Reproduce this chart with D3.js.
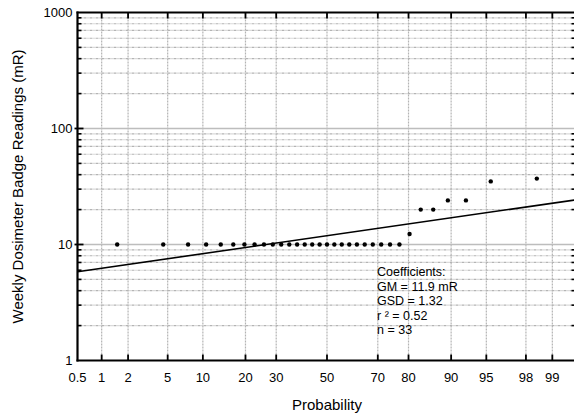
<!DOCTYPE html>
<html>
<head>
<meta charset="utf-8">
<script src="https://cdn.jsdelivr.net/npm/d3@7"></script>
<style>
  body { margin: 0; background: #fff; }
  text { font-family: "Liberation Sans", Arial, sans-serif; fill: #000; }
</style>
</head>
<body>
<div id="chart"></div>
<script>
// badge readings, sorted (mR), n = 33
const readings = [10,10,10,10,10,10,10,10,10,10,10,10,10,10,10,10,10,10,10,10,10,10,10,10,10,10,
                  12.3,20,20,24,24,35,37];
const probTicks = [0.5,1,2,5,10,20,30,50,70,80,90,95,98,99];
const yTicks = [1,10,100,1000];
const gm = 11.9, gsd = 1.32;
const coefText = ["Coefficients:", "GM = 11.9 mR", "GSD = 1.32", "r \u00b2 = 0.52", "n = 33"];

const width = 574, height = 417;
const margin = {top: 12.5, right: -2.5, bottom: 56.5, left: 77.5};

// inverse normal cdf (Acklam)
function probit(p) {
  const a = [-39.6968302866538, 220.946098424521, -275.928510446969, 138.357751867269, -30.6647980661472, 2.50662827745924];
  const b = [-54.4760987982241, 161.585836858041, -155.698979859887, 66.8013118877197, -13.2806815528857];
  const c = [-0.00778489400243029, -0.322396458041136, -2.40075827716184, -2.54973253934373, 4.37466414146497, 2.93816398269878];
  const d = [0.00778469570904146, 0.32246712907004, 2.445134137143, 3.75440866190742];
  const pl = 0.02425;
  let q, r;
  if (p < pl) {
    q = Math.sqrt(-2 * Math.log(p));
    return (((((c[0]*q+c[1])*q+c[2])*q+c[3])*q+c[4])*q+c[5]) / ((((d[0]*q+d[1])*q+d[2])*q+d[3])*q+1);
  } else if (p <= 1 - pl) {
    q = p - 0.5; r = q * q;
    return (((((a[0]*r+a[1])*r+a[2])*r+a[3])*r+a[4])*r+a[5])*q / (((((b[0]*r+b[1])*r+b[2])*r+b[3])*r+b[4])*r+1);
  } else {
    q = Math.sqrt(-2 * Math.log(1 - p));
    return -(((((c[0]*q+c[1])*q+c[2])*q+c[3])*q+c[4])*q+c[5]) / ((((d[0]*q+d[1])*q+d[2])*q+d[3])*q+1);
  }
}

const svg = d3.select("#chart").append("svg")
  .attr("width", width).attr("height", height);

const x = d3.scaleLinear()
  .domain([probit(0.005), probit(0.995)])
  .range([margin.left, width - margin.right]);
const px = p => x(probit(p / 100));

const y = d3.scaleLog()
  .domain([1, 1000])
  .range([height - margin.bottom, margin.top]);

const minorY = [];
[1, 10, 100].forEach(dec => { for (let k = 2; k <= 9; k++) minorY.push(dec * k); });

const grid = svg.append("g");
// minor horizontal grid
grid.selectAll(".hmin").data(minorY).enter().append("line")
  .attr("x1", margin.left).attr("x2", width)
  .attr("y1", d => y(d)).attr("y2", d => y(d))
  .attr("stroke", "#b4b4b4").attr("stroke-width", 1.2)
  .attr("stroke-dasharray", "3,1,1,1");
// vertical grid
grid.selectAll(".vg").data(probTicks.slice(1)).enter().append("line")
  .attr("x1", d => px(d)).attr("x2", d => px(d))
  .attr("y1", y(1)).attr("y2", y(1000))
  .attr("stroke", "#b4b4b4").attr("stroke-width", 1.2)
  .attr("stroke-dasharray", "2,1");
// major horizontal grid
grid.selectAll(".hmaj").data([10, 100]).enter().append("line")
  .attr("x1", margin.left).attr("x2", width)
  .attr("y1", d => y(d)).attr("y2", d => y(d))
  .attr("stroke", "#bdbdbd").attr("stroke-width", 1.5);

// fitted line
const zr = x.domain();
svg.append("line")
  .attr("x1", x(zr[0])).attr("x2", x(zr[1]))
  .attr("y1", y(Math.pow(10, Math.log10(gm) + zr[0] * Math.log10(gsd))))
  .attr("y2", y(Math.pow(10, Math.log10(gm) + zr[1] * Math.log10(gsd))))
  .attr("stroke", "#000").attr("stroke-width", 1.6);

// points at plotting positions (i-0.5)/n
const n = readings.length;
svg.selectAll("circle").data(readings).enter().append("circle")
  .attr("cx", (d, i) => x(probit((i + 0.5) / n)))
  .attr("cy", d => y(d))
  .attr("r", 2.2)
  .attr("fill", "#000");

// frame + ticks
const axes = svg.append("g").attr("stroke", "#000");
axes.append("line").attr("x1", margin.left).attr("x2", margin.left)
  .attr("y1", y(1) + 1).attr("y2", y(1000) - 1).attr("stroke-width", 2.2);
axes.append("line").attr("x1", margin.left - 1).attr("x2", width)
  .attr("y1", y(1)).attr("y2", y(1)).attr("stroke-width", 2.2);
axes.append("line").attr("x1", margin.left - 1).attr("x2", width)
  .attr("y1", y(1000)).attr("y2", y(1000)).attr("stroke-width", 2.2);

// y ticks, left inward
axes.selectAll(".ymin").data(minorY).enter().append("line")
  .attr("x1", margin.left).attr("x2", margin.left + 4)
  .attr("y1", d => y(d)).attr("y2", d => y(d)).attr("stroke-width", 1.6);
axes.selectAll(".ymaj").data([10, 100]).enter().append("line")
  .attr("x1", margin.left - 3).attr("x2", margin.left + 6)
  .attr("y1", d => y(d)).attr("y2", d => y(d)).attr("stroke-width", 1.8);
// right side minor ticks
axes.selectAll(".yminr").data(minorY).enter().append("line")
  .attr("x1", width - margin.right - 5).attr("x2", width)
  .attr("y1", d => y(d)).attr("y2", d => y(d)).attr("stroke-width", 1.6);
// x ticks bottom (up) and top (down)
axes.selectAll(".xb").data(probTicks.slice(1)).enter().append("line")
  .attr("x1", d => px(d)).attr("x2", d => px(d))
  .attr("y1", y(1)).attr("y2", y(1) - 6).attr("stroke-width", 1.8);
axes.selectAll(".xt").data(probTicks.slice(1)).enter().append("line")
  .attr("x1", d => px(d)).attr("x2", d => px(d))
  .attr("y1", y(1000)).attr("y2", y(1000) + 6).attr("stroke-width", 1.8);

// tick labels
svg.selectAll(".xl").data(probTicks).enter().append("text")
  .attr("x", d => px(d)).attr("y", y(1) + 21)
  .attr("text-anchor", "middle").attr("font-size", 13)
  .text(d => d);
svg.selectAll(".yl").data(yTicks).enter().append("text")
  .attr("x", margin.left - 5).attr("y", d => y(d) + 4)
  .attr("text-anchor", "end").attr("font-size", 13)
  .text(d => d);

// axis titles
svg.append("text")
  .attr("x", px(50)).attr("y", 410)
  .attr("text-anchor", "middle").attr("font-size", 15)
  .text("Probability");
svg.append("text")
  .attr("transform", `translate(23,${(y(1) + y(1000)) / 2}) rotate(-90)`)
  .attr("text-anchor", "middle").attr("font-size", 15)
  .text("Weekly Dosimeter Badge Readings (mR)");

// coefficients box
svg.append("g").selectAll("text").data(coefText).enter().append("text")
  .attr("x", 377).attr("y", (d, i) => 276 + i * 14.6)
  .attr("font-size", 12.5)
  .text(d => d);
</script>
</body>
</html>
